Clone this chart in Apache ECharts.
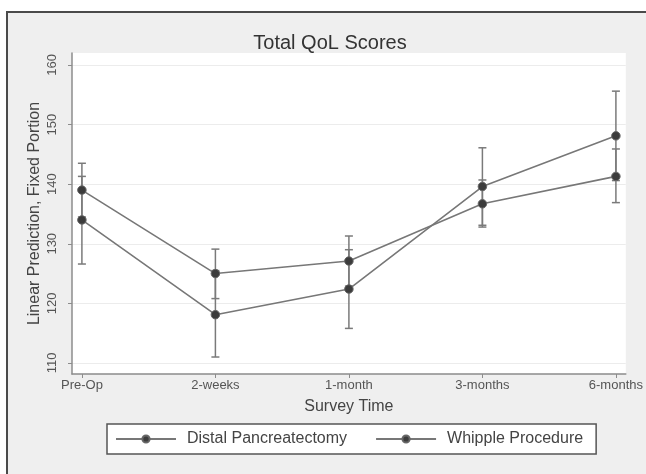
<!DOCTYPE html>
<html><head><meta charset="utf-8">
<script src="https://cdn.jsdelivr.net/npm/echarts@6/dist/echarts.min.js"></script>
<style>
html,body{margin:0;padding:0;background:#fff;}
#wrap{position:relative;width:646px;height:474px;overflow:hidden;background:#fff;}
#panel{position:absolute;left:6px;top:11px;width:650px;height:470px;background:#efefef;border-top:2px solid #4a4a4a;border-left:2px solid #4a4a4a;}
#c{position:absolute;left:0;top:0;width:646px;height:474px;}
</style>
</head><body>
<div id="wrap"><div id="panel"></div><div id="c"></div></div>
<script>
const categories = ['Pre-Op', '2-weeks', '1-month', '3-months', '6-months'];
const yTicks = [110, 120, 130, 140, 150, 160];
const seriesNames = ['Distal Pancreatectomy', 'Whipple Procedure'];
const distalMean = [134.0, 118.1, 122.4, 139.6, 148.1];
const distalLow  = [126.6, 111.0, 115.8, 133.1, 140.6];
const distalHigh = [141.3, 125.5, 129.0, 146.1, 155.6];
const whippleMean = [139.0, 125.0, 127.1, 136.7, 141.3];
const whippleLow  = [134.5, 120.8, 122.9, 132.8, 136.9];
const whippleHigh = [143.5, 129.1, 131.3, 140.7, 145.9];

const tickIdx = categories.map((c, i) => i);
const lineColor = '#777777';
const markerColor = '#3c3c3c';

function errData(lo, hi) { return lo.map((v, i) => [i, v, hi[i]]); }
function renderErr(params, api) {
  const x = api.value(0), lo = api.value(1), hi = api.value(2);
  const a = api.coord([x, lo]), b = api.coord([x, hi]);
  const h = 4;
  const st = { stroke: '#7a7a7a', lineWidth: 1.5, fill: null };
  return { type: 'group', children: [
    { type: 'line', shape: { x1: a[0], y1: a[1], x2: b[0], y2: b[1] }, style: st },
    { type: 'line', shape: { x1: a[0] - h, y1: a[1], x2: a[0] + h, y2: a[1] }, style: st },
    { type: 'line', shape: { x1: b[0] - h, y1: b[1], x2: b[0] + h, y2: b[1] }, style: st }
  ]};
}
function lineSeries(name, mean) {
  return {
    name: name, type: 'line', data: mean.map((v, i) => [i, v]), z: 3,
    symbol: 'circle', symbolSize: 8.5,
    itemStyle: { color: markerColor, borderColor: '#666', borderWidth: 1 },
    lineStyle: { color: lineColor, width: 1.6 },
    emphasis: { disabled: true }
  };
}

const chart = echarts.init(document.getElementById('c'), null, { renderer: 'canvas' });
chart.setOption({
  animation: false,
  backgroundColor: 'transparent',
  textStyle: { fontFamily: 'Liberation Sans, Arial, sans-serif' },
  title: {
    text: 'Total QoL Scores', left: 325, textAlign: 'center', top: 28,
    textStyle: { fontSize: 20, fontWeight: 'normal', color: '#333' }
  },
  grid: { left: 72, right: 15, top: 53, bottom: 100, show: true, backgroundColor: '#ffffff', borderWidth: 0 },
  xAxis: {
    type: 'value', min: -0.0742, max: 4.0742,
    axisLine: { show: true, onZero: false, lineStyle: { color: '#8c8c8c', width: 1.5 } },
    axisTick: { show: true, customValues: tickIdx, length: 4, lineStyle: { color: '#8c8c8c', width: 1 } },
    axisLabel: { customValues: tickIdx, formatter: v => categories[Math.round(v)], fontSize: 13, color: '#555', margin: 5 },
    splitLine: { show: false },
    name: 'Survey Time', nameLocation: 'middle', nameGap: 25, nameMoveOverlap: false,
    nameTextStyle: { fontSize: 16, color: '#444' }
  },
  yAxis: {
    type: 'value', min: 108.15, max: 162.0,
    axisLine: { show: true, onZero: false, lineStyle: { color: '#8c8c8c', width: 1.5 } },
    axisTick: { show: true, customValues: yTicks, length: 4, lineStyle: { color: '#8c8c8c', width: 1 } },
    axisLabel: { customValues: yTicks, rotate: 90, fontSize: 13, color: '#555', margin: 13 },
    splitLine: { show: true, lineStyle: { color: '#ececec', width: 1 } },
    name: 'Linear Prediction, Fixed Portion', nameLocation: 'middle', nameGap: 29, nameMoveOverlap: false,
    nameTextStyle: { fontSize: 16, color: '#444' }
  },
  legend: {
    data: seriesNames, left: 107, top: 424, orient: 'horizontal',
    itemWidth: 60, itemHeight: 9, itemGap: 28, padding: [7, 13, 7, 8],
    backgroundColor: '#ffffff', borderColor: '#555', borderWidth: 1.5,
    textStyle: { fontSize: 16, color: '#444', padding: [0, 0, 0, 6] },
    selectedMode: false
  },
  series: [
    { name: 'ciDistal', type: 'custom', renderItem: renderErr, data: errData(distalLow, distalHigh), encode: { x: 0, y: [1, 2] }, z: 2, silent: true },
    { name: 'ciWhipple', type: 'custom', renderItem: renderErr, data: errData(whippleLow, whippleHigh), encode: { x: 0, y: [1, 2] }, z: 2, silent: true },
    lineSeries(seriesNames[0], distalMean),
    lineSeries(seriesNames[1], whippleMean)
  ]
});
</script>
</body></html>
